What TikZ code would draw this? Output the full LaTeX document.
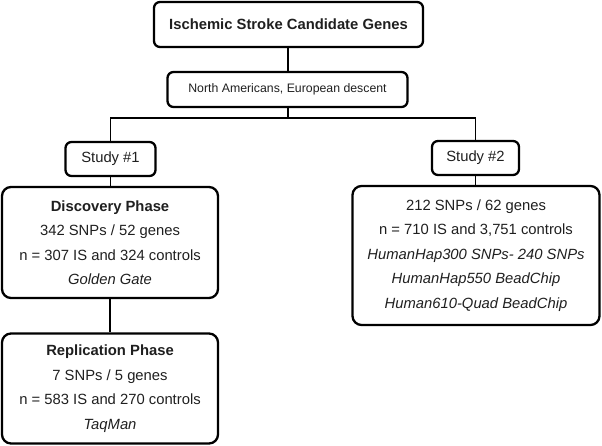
\documentclass[tikz,border=0pt]{standalone}
\usepackage{fontspec}
\setmainfont{Liberation Sans}
\begin{document}
\begin{tikzpicture}[x=1pt,y=-1pt,
  box/.style={draw, line width=2.3pt, rounded corners=9pt, align=center, inner sep=0pt,
    font=\fontsize{14.8}{24.5}\selectfont, text=black!88},
  smallbox/.style={box, rounded corners=6pt},
  conn/.style={line width=1.2pt}]
\useasboundingbox (0,0) rectangle (602,446);
\node[smallbox, minimum width=269pt, minimum height=45pt, font=\fontsize{14.8}{18}\selectfont\bfseries] (title) at (288.5,24.5) {Ischemic Stroke Candidate Genes};
\node[smallbox, minimum width=240pt, minimum height=35pt, font=\fontsize{12.3}{15}\selectfont] (na) at (287.5,89.5) {North Americans, European descent};
\node[smallbox, minimum width=90pt, minimum height=34pt] (s1) at (110.5,159) {Study \#1};
\node[smallbox, minimum width=87pt, minimum height=34pt] (s2) at (475.5,158) {Study \#2};
\node[box, minimum width=216pt, minimum height=111pt] (disc) at (110,242.5)
  {\textbf{Discovery Phase}\\342 SNPs / 52 genes\\n = 307 IS and 324 controls\\\textit{Golden Gate}};
\node[box, minimum width=216pt, minimum height=110pt] (rep) at (110,388.5)
  {\textbf{Replication Phase}\\7 SNPs / 5 genes\\n = 583 IS and 270 controls\\\textit{TaqMan}};
\node[box, minimum width=247pt, minimum height=139pt] (s2d) at (476,255.5)
  {212 SNPs / 62 genes\\n = 710 IS and 3,751 controls\\\textit{HumanHap300 SNPs- 240 SNPs}\\\textit{HumanHap550 BeadChip}\\\textit{Human610-Quad BeadChip}};
\coordinate (j) at (288,118);
\draw[conn] (title.south -| j) -- (na.north -| j);
\draw[conn] (na.south -| j) -- (j);
\draw[conn] (s1.north) |- (j) -| (s2.north);
\draw[conn] (s1.south) -- (disc.north -| s1.south);
\draw[conn] (disc.south) -- (rep.north);
\draw[conn] (s2.south) -- (s2d.north -| s2.south);
\end{tikzpicture}
\end{document}
